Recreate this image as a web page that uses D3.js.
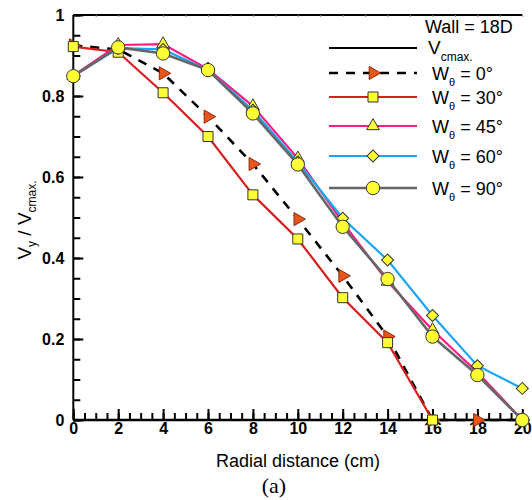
<!DOCTYPE html>
<html lang="en">
<head>
<meta charset="UTF-8">
<title>Radial velocity profile</title>
<script src="https://d3js.org/d3.v7.min.js"></script>
<style>
    body { margin: 0; background: #fff; }
    svg { display: block; font-family: Arial, "Liberation Sans", sans-serif; }
    .tick text { font-weight: bold; font-size: 16px; fill: #000; }
</style>
</head>
<body>
<div id="chart"></div>
<script>
    // data
    const radial = [0, 2, 4, 6, 8, 10, 12, 14, 16, 18, 20];
    const w0  = [0.925, 0.915, 0.856, 0.749, 0.632, 0.496, 0.356, 0.206, 0, 0, 0];
    const w30 = [0.922, 0.908, 0.808, 0.700, 0.556, 0.447, 0.302, 0.191, 0];
    const w45 = [0.850, 0.926, 0.928, 0.866, 0.775, 0.646, 0.488, 0.342, 0.222, 0.118, 0];
    const w60 = [0.850, 0.918, 0.915, 0.864, 0.765, 0.637, 0.498, 0.395, 0.258, 0.134, 0.078];
    const w90 = [0.849, 0.920, 0.905, 0.864, 0.757, 0.631, 0.477, 0.348, 0.206, 0.111, 0];
    const angles = ["0", "30", "45", "60", "90"];
    const xTicks = [0, 2, 4, 6, 8, 10, 12, 14, 16, 18, 20];
    const yTicks = [0, 0.2, 0.4, 0.6, 0.8, 1];

    const width = 532, height = 500;
    const pLeft = 73.3, pRight = 522.3, pTop = 15, pBottom = 420;

    const svg = d3.select("#chart").append("svg")
        .attr("width", width).attr("height", height);

    const x = d3.scaleLinear().domain([0, 20]).range([pLeft, pRight]);
    const y = d3.scaleLinear().domain([0, 1]).range([pBottom, pTop]);

    // series styles
    const series = [
        { vals: w0,  color: "#000", sw: 2.6, dash: "9,8", sym: d3.symbolTriangle, size: 75, rot: 90, fill: "#e8561c", ms: "#8a2a08" },
        { vals: w30, color: "#d81e1e", sw: 2.2, dash: null, sym: d3.symbolSquare, size: 100, rot: 0, fill: "#ffff33", ms: "#333" },
        { vals: w45, color: "#ff1a86", sw: 2.2, dash: null, sym: d3.symbolTriangle, size: 70, rot: 0, fill: "#ffff33", ms: "#333" },
        { vals: w60, color: "#1ca6f2", sw: 2.2, dash: null, sym: d3.symbolSquare, size: 72, rot: 45, fill: "#ffff33", ms: "#333" },
        { vals: w90, color: "#666666", sw: 2.6, dash: null, sym: d3.symbolCircle, size: 140, rot: 0, fill: "#ffff33", ms: "#333" }
    ];

    // top frame line
    svg.append("line")
        .attr("x1", pLeft).attr("x2", pRight).attr("y1", pTop).attr("y2", pTop)
        .attr("stroke", "#000").attr("stroke-width", 2);
    svg.append("g")
        .attr("transform", `translate(0,${pTop})`)
        .call(d3.axisTop(x).tickValues(d3.range(0, 21, 1)).tickSize(-2).tickFormat(""))
        .call(g => g.select(".domain").remove())
        .selectAll("line").attr("stroke", "#888");

    // y axis: minor + major
    svg.append("g")
        .attr("transform", `translate(${pLeft},0)`)
        .call(d3.axisLeft(y).tickValues(d3.range(0, 1.001, 0.05)).tickSize(-7).tickFormat(""))
        .call(g => g.select(".domain").remove())
        .selectAll("line").attr("stroke-width", 2);
    const yAxis = svg.append("g")
        .attr("transform", `translate(${pLeft},0)`)
        .call(d3.axisLeft(y).tickValues(yTicks).tickSize(-10).tickPadding(9)
            .tickFormat(d => d === 0 || d === 1 ? d3.format("d")(d) : d3.format(".1f")(d)));
    yAxis.select(".domain").attr("stroke-width", 2).attr("d", `M0,${pBottom}V${pTop}`);
    yAxis.selectAll("line").attr("stroke-width", 2);

    // x axis: minor + major
    svg.append("g")
        .attr("transform", `translate(0,${pBottom})`)
        .call(d3.axisBottom(x).tickValues(d3.range(0, 20.01, 0.5)).tickSize(-7).tickFormat(""))
        .call(g => g.select(".domain").remove())
        .selectAll("line").attr("stroke-width", 2);
    const xAxis = svg.append("g")
        .attr("transform", `translate(0,${pBottom})`)
        .call(d3.axisBottom(x).tickValues(xTicks).tickSize(-11).tickPadding(3));
    xAxis.select(".domain").attr("stroke-width", 2.5).attr("d", `M${pLeft},0H${pRight}`);
    xAxis.selectAll("line").attr("stroke-width", 2);

    // series lines and markers
    const line = d3.line().x((d, i) => x(radial[i])).y(d => y(d));
    series.forEach(s => {
        svg.append("path")
            .datum(s.vals)
            .attr("d", line)
            .attr("fill", "none")
            .attr("stroke", s.color)
            .attr("stroke-width", s.sw)
            .attr("stroke-dasharray", s.dash);
        svg.append("g").selectAll("path")
            .data(s.vals)
            .join("path")
            .attr("d", d3.symbol().type(s.sym).size(s.size))
            .attr("transform", (d, i) => `translate(${x(radial[i])},${y(d)}) rotate(${s.rot})`)
            .attr("fill", s.fill)
            .attr("stroke", s.ms)
            .attr("stroke-width", 1);
    });

    // axis titles
    svg.append("text")
        .attr("x", 298).attr("y", 467)
        .attr("text-anchor", "middle")
        .attr("font-size", 18)
        .text("Radial distance (cm)");

    svg.append("text")
        .attr("x", 274).attr("y", 493)
        .attr("text-anchor", "middle")
        .attr("font-family", "'Liberation Serif', 'Times New Roman', serif")
        .attr("font-size", 22)
        .text("(a)");

    const yt = svg.append("text")
        .attr("transform", "translate(31,220) rotate(-90)")
        .attr("text-anchor", "middle")
        .attr("font-size", 19);
    yt.append("tspan").text("V");
    yt.append("tspan").attr("font-size", 12).attr("dy", 5).text("y");
    yt.append("tspan").attr("dy", -5).text(" / V");
    yt.append("tspan").attr("font-size", 12).attr("dy", 5).text("cmax.");

    // legend
    svg.append("text")
        .attr("x", 425).attr("y", 33)
        .attr("font-size", 18)
        .text("Wall = 18D");

    const rowY = [48, 73, 97, 126, 156, 188];
    const lx1 = 329, lx2 = 417, ltx = 432;

    svg.append("line")
        .attr("x1", lx1).attr("x2", lx2).attr("y1", rowY[0]).attr("y2", rowY[0])
        .attr("stroke", "#000").attr("stroke-width", 2);
    const vt = svg.append("text").attr("x", ltx - 4).attr("y", rowY[0] + 6).attr("font-size", 19);
    vt.append("tspan").text("V");
    vt.append("tspan").attr("font-size", 12).attr("dy", 7).text("cmax.");

    series.forEach((s, k) => {
        const ry = rowY[k + 1];
        const g = svg.append("g");
        g.append("line")
            .attr("x1", lx1).attr("x2", lx2).attr("y1", ry).attr("y2", ry)
            .attr("stroke", s.color).attr("stroke-width", s.sw)
            .attr("stroke-dasharray", s.dash);
        g.append("path")
            .attr("d", d3.symbol().type(s.sym).size(s.size))
            .attr("transform", `translate(${(lx1 + lx2) / 2},${ry}) rotate(${s.rot})`)
            .attr("fill", s.fill).attr("stroke", s.ms).attr("stroke-width", 1);
        const t = g.append("text").attr("x", ltx).attr("y", ry + 7).attr("font-size", 18);
        t.append("tspan").text("W");
        t.append("tspan").attr("font-size", 11).attr("dy", 6).text("θ");
        t.append("tspan").attr("dy", -6).text(` = ${angles[k]}°`);
    });
</script>
</body>
</html>
